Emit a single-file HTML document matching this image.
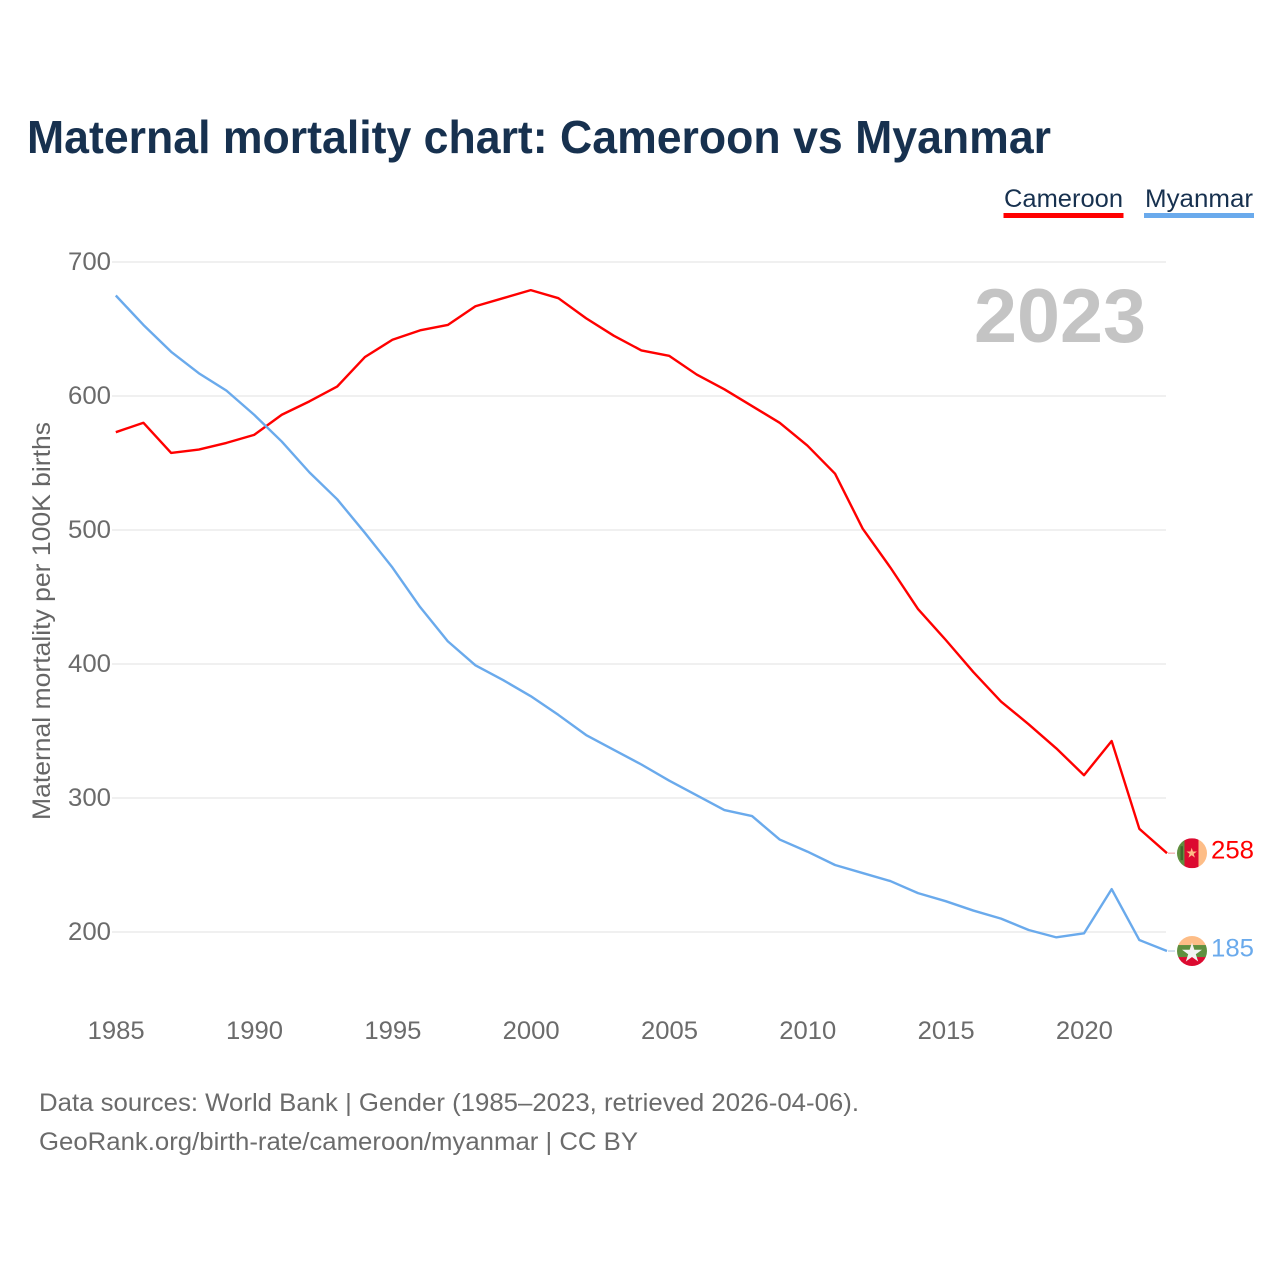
<!DOCTYPE html>
<html lang="en">
<head>
<meta charset="utf-8">
<title>Maternal mortality chart: Cameroon vs Myanmar</title>
<style>
html,body{margin:0;padding:0;background:#fff;width:1280px;height:1280px;overflow:hidden}
svg{display:block}
text{font-family:"Liberation Sans",sans-serif}
</style>
</head>
<body>
<svg id="chart" xmlns="http://www.w3.org/2000/svg" width="1280" height="1280" viewBox="0 0 1280 1280">
  <rect x="0" y="0" width="1280" height="1280" fill="#ffffff"/>
  <text x="27" y="153" font-size="46" font-weight="700" fill="#17314f" textLength="1024" lengthAdjust="spacingAndGlyphs">Maternal mortality chart: Cameroon vs Myanmar</text>

  <g>
    <g>
      <text x="1004" y="207" font-size="25" fill="#17314f" textLength="119" lengthAdjust="spacingAndGlyphs">Cameroon</text>
      <rect x="1003.500" y="213" width="120" height="5" fill="#ff0000"/>
    </g>
    <g>
      <text x="1145" y="207" font-size="25" fill="#17314f" textLength="108" lengthAdjust="spacingAndGlyphs">Myanmar</text>
      <rect x="1144" y="213" width="110" height="5" fill="#6aaaec"/>
    </g>
  </g>

  <text x="1146" y="342" text-anchor="end" font-size="76" font-weight="700" fill="#c4c4c4" textLength="172" lengthAdjust="spacingAndGlyphs">2023</text>

  <g id="grid"></g>
  <g id="yticks"></g>
  <g id="xticks"></g>
  <text transform="translate(50,621) rotate(-90)" text-anchor="middle" font-size="25" fill="#666666" textLength="398" lengthAdjust="spacingAndGlyphs">Maternal mortality per 100K births</text>
  <g id="series"></g>

  <defs>
    <clipPath id="clip-cm"><circle id="clip-cm-c" cx="1192" cy="853" r="15"/></clipPath>
    <clipPath id="clip-mm"><circle id="clip-mm-c" cx="1192" cy="951" r="15"/></clipPath>
  </defs>
  <g id="flag-cm" clip-path="url(#clip-cm)"></g>
  <g id="flag-mm" clip-path="url(#clip-mm)"></g>
  <text id="value-cm" x="1254" y="858" text-anchor="end" font-size="25" fill="#ff0000" textLength="43" lengthAdjust="spacingAndGlyphs"></text>
  <text id="value-mm" x="1254" y="956" text-anchor="end" font-size="25" fill="#6aaaec" textLength="43" lengthAdjust="spacingAndGlyphs"></text>

  <text x="39" y="1111" font-size="25" fill="#6b6b6b" textLength="820" lengthAdjust="spacingAndGlyphs">Data sources: World Bank | Gender (1985–2023, retrieved 2026-04-06).</text>
  <text x="39" y="1150" font-size="25" fill="#6b6b6b" textLength="599" lengthAdjust="spacingAndGlyphs">GeoRank.org/birth-rate/cameroon/myanmar | CC BY</text>
</svg>
<script>
const years = [1985,1986,1987,1988,1989,1990,1991,1992,1993,1994,1995,1996,1997,1998,1999,2000,2001,2002,2003,2004,2005,2006,2007,2008,2009,2010,2011,2012,2013,2014,2015,2016,2017,2018,2019,2020,2021,2022,2023];
const cameroon = [573,580,557.5,560,565,571,586,596,607,629,642,649,653,667,673,679,673,658,645,634,630,616,605,592.5,580,563,542,501,472,441,418,394,372,355,337,317,342.500,277,258.8];
const myanmar = [675,653,633,617,604,586,566,543,523,498,472,442.5,417,399,388,376,362,347,336,325,313,302,291,286.5,269,260,250,244,238,229,223,216,210,201.5,196,199,232,194,185.8];
const yTickValues = [200,300,400,500,600,700];
const xTickValues = [1985,1990,1995,2000,2005,2010,2015,2020];

const NS = 'http://www.w3.org/2000/svg';
function xScale(year){ return 115.8 + (year - 1985) * (1167 - 115.8) / 38; }
function yScale(v){ return 932 - (v - 200) * 1.34; }
function make(tag, attrs, parent, txt){
  const el = document.createElementNS(NS, tag);
  for (const k in attrs) el.setAttribute(k, attrs[k]);
  if (txt !== undefined) el.textContent = txt;
  parent.appendChild(el);
  return el;
}

const gridG = document.getElementById('grid');
const yG = document.getElementById('yticks');
yTickValues.forEach(function(v){
  const line = make('line', {x1:112, x2:1166, y1:yScale(v), y2:yScale(v), stroke:'#f0f0f0', 'stroke-width':2}, gridG);
  
  
  const label = make('text', {x:111, y:yScale(v)+8, 'text-anchor':'end', 'font-size':25, fill:'#6b6b6b', textLength:43, lengthAdjust:'spacingAndGlyphs'}, yG, String(v));
  
  
});

const xG = document.getElementById('xticks');
xTickValues.forEach(function(y){
  const label = make('text', {x:xScale(y)+0.4, y:1039, 'text-anchor':'middle', 'font-size':25, fill:'#6b6b6b', textLength:57, lengthAdjust:'spacingAndGlyphs'}, xG, String(y));
  
  
});

function pointsOf(values){
  return values.map(function(v,i){ return xScale(years[i]).toFixed(2) + ',' + yScale(v).toFixed(2); }).join(' ');
}
const seriesG = document.getElementById('series');

const lineCm = make('polyline', {points:pointsOf(cameroon), fill:'none', stroke:'#ff0000', 'stroke-width':2.4, 'stroke-linejoin':'round'}, seriesG);


const lineMm = make('polyline', {points:pointsOf(myanmar), fill:'none', stroke:'#6aaaec', 'stroke-width':2.4, 'stroke-linejoin':'round'}, seriesG);



const lastCm = cameroon[cameroon.length-1];
const lastMm = myanmar[myanmar.length-1];
const endX = xScale(years[years.length-1]);
const cyCm = yScale(lastCm);
const cyMm = yScale(lastMm);

const connCm = make('line', {x1:endX+1, x2:endX+8, y1:cyCm, y2:cyCm, stroke:'#f4b8b8', 'stroke-width':1.5}, seriesG);


const connMm = make('line', {x1:endX+1, x2:endX+8, y1:cyMm, y2:cyMm, stroke:'#c4d6e8', 'stroke-width':1.5}, seriesG);



document.getElementById('value-cm').textContent = String(Math.floor(lastCm));
document.getElementById('value-cm').setAttribute('y', cyCm + 5.5);
document.getElementById('value-mm').textContent = String(Math.floor(lastMm));
document.getElementById('value-mm').setAttribute('y', cyMm + 5.5);
document.getElementById('clip-cm-c').setAttribute('cy', cyCm);
document.getElementById('clip-mm-c').setAttribute('cy', cyMm);

function star(cx, cy, R){
  const pts = [];
  for (let i = 0; i < 10; i++){
    const r = i % 2 ? R * 0.382 : R;
    const a = -Math.PI/2 + i * Math.PI/5;
    pts.push((cx + r*Math.cos(a)).toFixed(2) + ',' + (cy + r*Math.sin(a)).toFixed(2));
  }
  return pts.join(' ');
}

const fc = document.getElementById('flag-cm');
const cmGreen = make('rect', {x:1177, y:cyCm-15, width:8, height:30, fill:'#5f8f3f'}, fc);


const cmRed = make('rect', {x:1184.500, y:cyCm-15, width:14, height:30, fill:'#dc0a30'}, fc);


const cmYellow = make('rect', {x:1198.500, y:cyCm-15, width:9, height:30, fill:'#fdbd87'}, fc);


const cmStar = make('polygon', {points:star(1191.700, cyCm, 5.5), fill:'#fdbd87'}, fc);


const cmDots = make('rect', {x:1180.500, y:cyCm-7, width:2.500, height:14, fill:'#2f5a25', opacity:0.7}, fc);



const fm = document.getElementById('flag-mm');
const mmYellow = make('rect', {x:1177, y:cyMm-15, width:30, height:9, fill:'#fdbd87'}, fm);


const mmGreen = make('rect', {x:1177, y:cyMm-6, width:30, height:12, fill:'#5f8f3f'}, fm);


const mmRed = make('rect', {x:1177, y:cyMm+6, width:30, height:10, fill:'#dc0a30'}, fm);


const mmStar = make('polygon', {points:star(1192, cyMm+2, 10.5), fill:'#f2f2f2'}, fm);


</script>
</body>
</html>
